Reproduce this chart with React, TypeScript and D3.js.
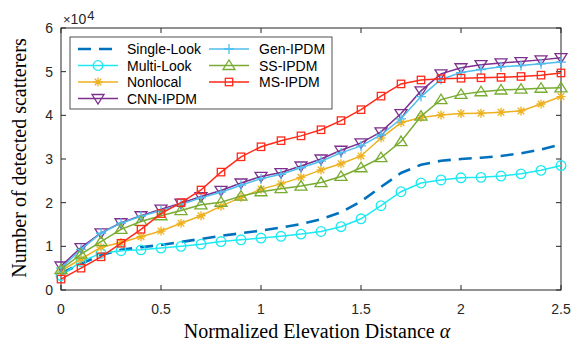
import React from "react"
import * as d3 from "d3"

const alphas = d3.range(0, 26).map((i) => i / 10)

const singleLook = [0.38, 0.6, 0.8, 0.92, 0.98, 1.03, 1.1, 1.17, 1.24, 1.3, 1.36, 1.43, 1.51, 1.62, 1.78, 2.03, 2.36, 2.68, 2.87, 2.96, 3.0, 3.03, 3.07, 3.13, 3.22, 3.33]
const multiLook = [0.33, 0.65, 0.84, 0.9, 0.92, 0.96, 1.0, 1.05, 1.11, 1.15, 1.19, 1.23, 1.28, 1.34, 1.45, 1.63, 1.93, 2.25, 2.45, 2.52, 2.57, 2.58, 2.61, 2.66, 2.74, 2.85]
const nonlocal = [0.44, 0.71, 0.98, 1.09, 1.22, 1.35, 1.53, 1.7, 1.92, 2.12, 2.31, 2.43, 2.58, 2.75, 2.89, 3.07, 3.48, 3.83, 3.95, 4.01, 4.04, 4.05, 4.07, 4.1, 4.26, 4.43]
const cnnIpdm = [0.55, 0.97, 1.31, 1.54, 1.7, 1.85, 1.99, 2.14, 2.28, 2.45, 2.6, 2.69, 2.84, 3.0, 3.2, 3.37, 3.62, 4.04, 4.56, 4.95, 5.09, 5.16, 5.2, 5.23, 5.27, 5.32]
const genIpdm = [0.5, 0.93, 1.3, 1.53, 1.69, 1.82, 1.96, 2.11, 2.24, 2.4, 2.55, 2.65, 2.8, 2.95, 3.14, 3.3, 3.55, 3.92, 4.43, 4.82, 4.98, 5.05, 5.11, 5.14, 5.18, 5.22]
const ssIpdm = [0.47, 0.82, 1.11, 1.39, 1.57, 1.7, 1.82, 1.95, 2.01, 2.15, 2.25, 2.32, 2.38, 2.46, 2.6, 2.8, 3.03, 3.4, 3.98, 4.36, 4.48, 4.54, 4.58, 4.6, 4.62, 4.63]
const msIpdm = [0.25, 0.5, 0.76, 1.07, 1.39, 1.75, 2.0, 2.29, 2.7, 3.05, 3.28, 3.42, 3.53, 3.67, 3.88, 4.13, 4.44, 4.72, 4.81, 4.84, 4.85, 4.86, 4.87, 4.89, 4.92, 4.97]

type Marker = "none" | "circle" | "star" | "tridown" | "plus" | "triup" | "square"

const series: { name: string; values: number[]; color: string; marker: Marker; dashed?: boolean }[] = [
  { name: "Single-Look", values: singleLook, color: "#0072BD", marker: "none", dashed: true },
  { name: "Multi-Look", values: multiLook, color: "#1DE9F2", marker: "circle" },
  { name: "Nonlocal", values: nonlocal, color: "#EDB120", marker: "star" },
  { name: "CNN-IPDM", values: cnnIpdm, color: "#7E2F8E", marker: "tridown" },
  { name: "Gen-IPDM", values: genIpdm, color: "#4DBEEE", marker: "plus" },
  { name: "SS-IPDM", values: ssIpdm, color: "#77AC30", marker: "triup" },
  { name: "MS-IPDM", values: msIpdm, color: "#FF2A1A", marker: "square" },
]

const xTicks = [0, 0.5, 1, 1.5, 2, 2.5]
const yTicks = [0, 1, 2, 3, 4, 5, 6]

const W = 579
const H = 343
const left = 61
const right = 561
const top = 28
const bottom = 290
const sansFont = "'Liberation Sans', Arial, Helvetica, sans-serif"
const serifFont = "'Liberation Serif', 'Times New Roman', serif"

function MarkerShape({ type, x, y, color }: { type: Marker; x: number; y: number; color: string }) {
  const p = { fill: "none", stroke: color, strokeWidth: 1.3 }
  switch (type) {
    case "circle":
      return <circle cx={x} cy={y} r={4.8} {...p} />
    case "square":
      return <rect x={x - 3.7} y={y - 3.7} width={7.4} height={7.4} {...p} />
    case "tridown":
      return <path d={`M${x - 6},${y - 4} L${x + 6},${y - 4} L${x},${y + 5.5} Z`} {...p} />
    case "triup":
      return <path d={`M${x - 6},${y + 4} L${x + 6},${y + 4} L${x},${y - 5.5} Z`} {...p} />
    case "plus":
      return <path d={`M${x - 5},${y} L${x + 5},${y} M${x},${y - 5} L${x},${y + 5}`} {...p} />
    case "star":
      return (
        <path
          d={`M${x - 4.5},${y} L${x + 4.5},${y} M${x},${y - 4.5} L${x},${y + 4.5} M${x - 3.3},${y - 3.3} L${x + 3.3},${y + 3.3} M${x - 3.3},${y + 3.3} L${x + 3.3},${y - 3.3}`}
          {...p}
        />
      )
    default:
      return null
  }
}

export default function App() {
  const x = d3.scaleLinear().domain([0, 2.5]).range([left, right])
  const y = d3.scaleLinear().domain([0, 6]).range([bottom, top])
  const line = d3
    .line<number>()
    .x((_, i) => x(alphas[i]))
    .y((d) => y(d))

  const legendCols = [
    { lx: 78, tx: 127 },
    { lx: 209, tx: 259 },
  ]
  const rowY = [49, 65.5, 82, 98.5]

  return (
    <svg width={W} height={H} style={{ position: "absolute", left: 0, top: 0, background: "#fff" }}>
      {/* plot frame */}
      <rect x={left} y={top} width={right - left} height={bottom - top} fill="#fff" stroke="#262626" strokeWidth={1} />
      {xTicks.map((t) => (
        <g key={"x" + t}>
          <line x1={x(t)} x2={x(t)} y1={bottom} y2={bottom - 5} stroke="#262626" />
          <line x1={x(t)} x2={x(t)} y1={top} y2={top + 5} stroke="#262626" />
          <text x={x(t)} y={314} textAnchor="middle" fontFamily={sansFont} fontSize={14} fill="#262626">
            {t}
          </text>
        </g>
      ))}
      {yTicks.map((t) => (
        <g key={"y" + t}>
          <line x1={left} x2={left + 5} y1={y(t)} y2={y(t)} stroke="#262626" />
          <line x1={right} x2={right - 5} y1={y(t)} y2={y(t)} stroke="#262626" />
          <text x={53} y={y(t) + 5} textAnchor="end" fontFamily={sansFont} fontSize={14} fill="#262626">
            {t}
          </text>
        </g>
      ))}
      <text x={63} y={24} fontFamily={sansFont} fontSize={14} fill="#262626">
        <tspan fontSize={13}>×</tspan>
        <tspan>10</tspan>
        <tspan dx={1} dy={-4.5} fontSize={13}>
          4
        </tspan>
      </text>

      {/* series */}
      {series.map((s) => (
        <g key={s.name}>
          <path
            d={line(s.values) ?? ""}
            fill="none"
            stroke={s.color}
            strokeWidth={s.dashed ? 2.6 : 1.5}
            strokeDasharray={s.dashed ? "13 8" : undefined}
          />
          {s.marker !== "none" &&
            s.values.map((v, i) => <MarkerShape key={i} type={s.marker} x={x(alphas[i])} y={y(v)} color={s.color} />)}
        </g>
      ))}

      {/* legend */}
      <rect x={70} y={37} width={262} height={72} fill="#fff" stroke="#262626" strokeWidth={0.8} />
      {series.map((s, i) => {
        const col = legendCols[i < 4 ? 0 : 1]
        const ry = rowY[i < 4 ? i : i - 4]
        const mid = (col.lx + col.lx + 40) / 2
        return (
          <g key={"lg" + s.name}>
            <line
              x1={col.lx}
              x2={col.lx + 40}
              y1={ry}
              y2={ry}
              stroke={s.color}
              strokeWidth={s.dashed ? 2.6 : 1.5}
              strokeDasharray={s.dashed ? "13 8" : undefined}
            />
            {s.marker !== "none" && <MarkerShape type={s.marker} x={mid} y={ry} color={s.color} />}
            <text x={col.tx} y={ry + 5} fontFamily={sansFont} fontSize={14} fill="#000">
              {s.name}
            </text>
          </g>
        )
      })}

      {/* axis labels */}
      <text x={317} y={338} textAnchor="middle" fontFamily={serifFont} fontSize={20} fill="#000">
        Normalized Elevation Distance <tspan fontStyle="italic">α</tspan>
      </text>
      <text
        transform="translate(26,158) rotate(-90)"
        textAnchor="middle"
        fontFamily={serifFont}
        fontSize={20}
        fill="#000"
      >
        Number of detected scatterers
      </text>
    </svg>
  )
}
